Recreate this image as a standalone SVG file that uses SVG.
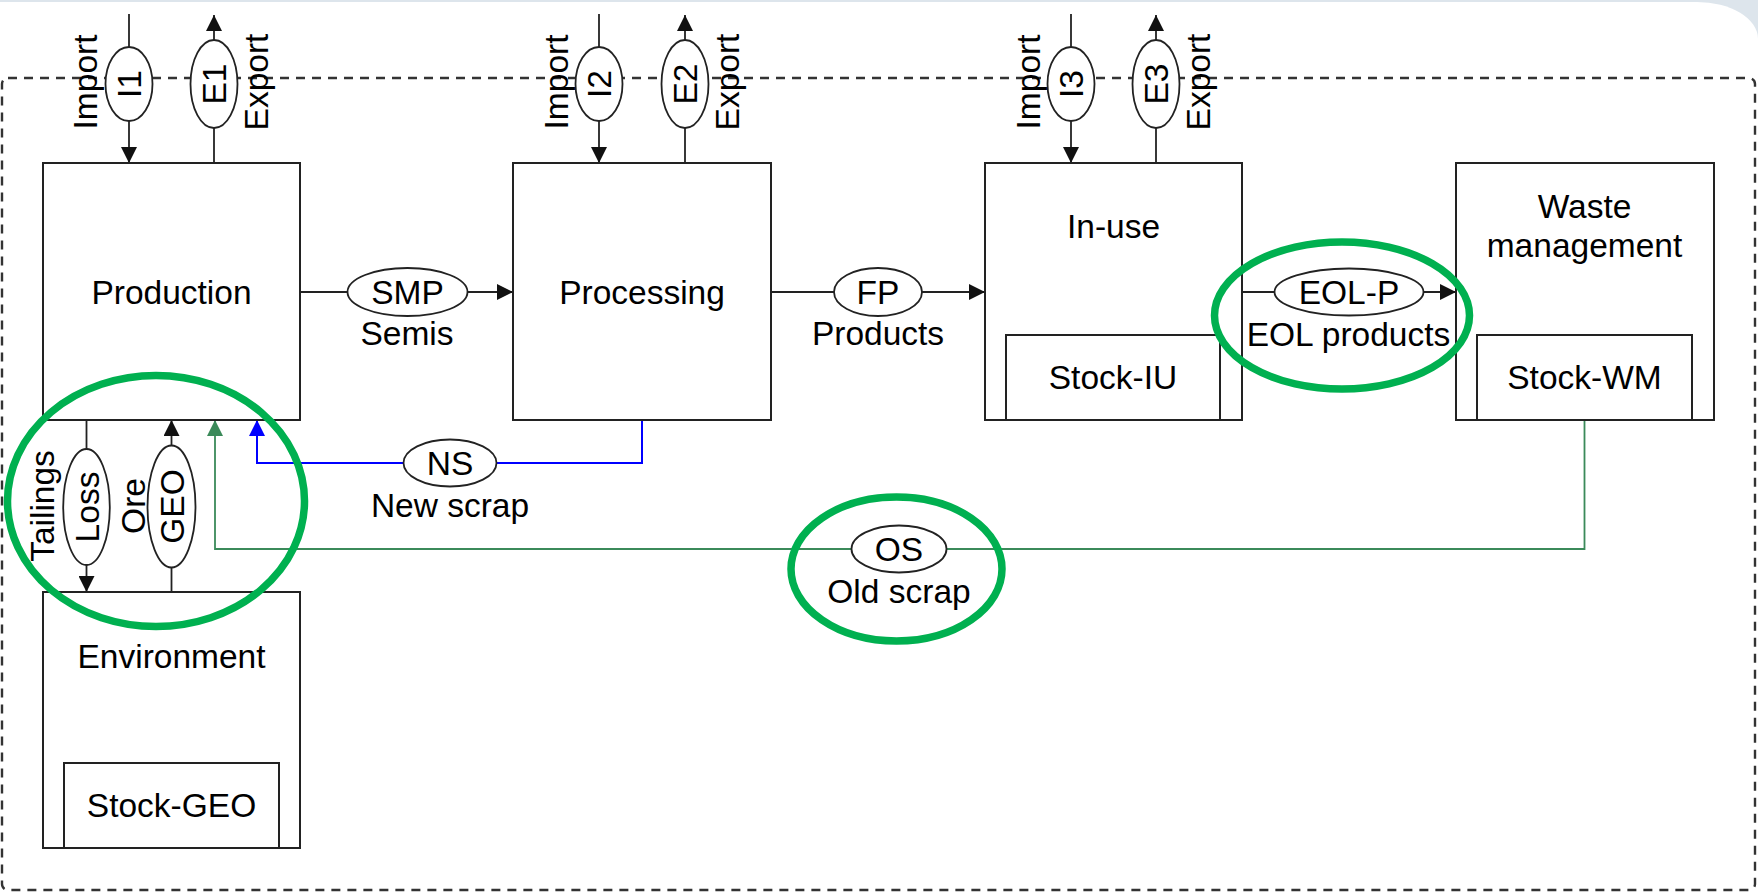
<svg xmlns="http://www.w3.org/2000/svg" width="1758" height="893" viewBox="0 0 1758 893">
<defs>
<style>
.box{fill:#fff;stroke:#222;stroke-width:2}
.t{font-family:"Liberation Sans",Arial,sans-serif;font-size:33.5px;fill:#000;text-anchor:middle}
.fl{fill:#fff;stroke:#222;stroke-width:1.8}
.ln{fill:none;stroke:#222;stroke-width:1.8}
.hl{fill:none;stroke:#00b050;stroke-width:7.5}
</style>
<marker id="ab" viewBox="0 0 16 16" refX="16" refY="8" markerWidth="16" markerHeight="16" markerUnits="userSpaceOnUse" orient="auto"><path d="M0,0 L16,8 L0,16 z" fill="#111"/></marker>
<marker id="abl" viewBox="0 0 16 16" refX="16" refY="8" markerWidth="16" markerHeight="16" markerUnits="userSpaceOnUse" orient="auto"><path d="M0,0 L16,8 L0,16 z" fill="#0000ff"/></marker>
<marker id="agr" viewBox="0 0 16 16" refX="16" refY="8" markerWidth="16" markerHeight="16" markerUnits="userSpaceOnUse" orient="auto"><path d="M0,0 L16,8 L0,16 z" fill="#3b8a5a"/></marker>
</defs>
<rect x="0" y="0" width="1758" height="893" fill="#dde5ec"/>
<path d="M0,2 H1697 A61,37 0 0 1 1758,39 V893 H0 Z" fill="#fff"/>
<rect id="system-boundary" x="2" y="78" width="1753" height="812" rx="6" fill="none" stroke="#333" stroke-width="2.4" stroke-dasharray="9 7"/>

<g id="connectors">
<path class="ln" d="M129,14 V163" marker-end="url(#ab)"/>
<path class="ln" d="M214,163 V15" marker-end="url(#ab)"/>
<path class="ln" d="M599,14 V163" marker-end="url(#ab)"/>
<path class="ln" d="M685,163 V15" marker-end="url(#ab)"/>
<path class="ln" d="M1071,14 V163" marker-end="url(#ab)"/>
<path class="ln" d="M1156,163 V15" marker-end="url(#ab)"/>
<path class="ln" d="M300,292 H513" marker-end="url(#ab)"/>
<path class="ln" d="M771,292 H985" marker-end="url(#ab)"/>
<path class="ln" d="M1242,292 H1456" marker-end="url(#ab)"/>
<path class="ln" d="M86.5,420 V592" marker-end="url(#ab)"/>
<path class="ln" d="M171.5,592 V420" marker-end="url(#ab)"/>
<path d="M642,420 V463 H257 V420" fill="none" stroke="#0000ff" stroke-width="2" marker-end="url(#abl)"/>
<path d="M1584.5,420 V549 H215 V420" fill="none" stroke="#3b8a5a" stroke-width="1.8" marker-end="url(#agr)"/>
</g>

<g id="production">
<rect class="box" x="43" y="163" width="257" height="257"/>
<text class="t" x="171.5" y="303.5">Production</text>
</g>
<g id="processing">
<rect class="box" x="513" y="163" width="258" height="257"/>
<text class="t" x="642" y="303.5">Processing</text>
</g>
<g id="in-use">
<rect class="box" x="985" y="163" width="257" height="257"/>
<text class="t" x="1113.5" y="238">In-use</text>
<rect class="box" x="1006" y="335" width="214" height="85"/>
<text class="t" x="1113" y="388.5">Stock-IU</text>
</g>
<g id="waste-management">
<rect class="box" x="1456" y="163" width="258" height="257"/>
<text class="t" x="1584.5" y="218">Waste</text>
<text class="t" x="1584.5" y="257">management</text>
<rect class="box" x="1477" y="335" width="215" height="85"/>
<text class="t" x="1584.5" y="388.5">Stock-WM</text>
</g>
<g id="environment">
<rect class="box" x="43" y="592" width="257" height="256"/>
<text class="t" x="171.5" y="668">Environment</text>
<rect class="box" x="64" y="763" width="215" height="85"/>
<text class="t" x="171.5" y="817">Stock-GEO</text>
</g>

<g id="flow-I1">
<ellipse class="fl" cx="129" cy="84" rx="23.5" ry="37"/>
<text class="t" transform="translate(129,84) rotate(-90)" y="12">I1</text>
<text class="t" transform="translate(85,82) rotate(-90)" y="12">Import</text>
</g>
<g id="flow-E1">
<ellipse class="fl" cx="214" cy="84" rx="23.5" ry="44"/>
<text class="t" transform="translate(214,84) rotate(-90)" y="12">E1</text>
<text class="t" transform="translate(256,82) rotate(-90)" y="12">Export</text>
</g>
<g id="flow-I2">
<ellipse class="fl" cx="599" cy="84" rx="23.5" ry="37"/>
<text class="t" transform="translate(599,84) rotate(-90)" y="12">I2</text>
<text class="t" transform="translate(555.5,82) rotate(-90)" y="12">Import</text>
</g>
<g id="flow-E2">
<ellipse class="fl" cx="685" cy="84" rx="23.5" ry="44"/>
<text class="t" transform="translate(685,84) rotate(-90)" y="12">E2</text>
<text class="t" transform="translate(727,82) rotate(-90)" y="12">Export</text>
</g>
<g id="flow-I3">
<ellipse class="fl" cx="1071" cy="84" rx="23.5" ry="37"/>
<text class="t" transform="translate(1071,84) rotate(-90)" y="12">I3</text>
<text class="t" transform="translate(1027.5,82) rotate(-90)" y="12">Import</text>
</g>
<g id="flow-E3">
<ellipse class="fl" cx="1156" cy="84" rx="23.5" ry="44"/>
<text class="t" transform="translate(1156,84) rotate(-90)" y="12">E3</text>
<text class="t" transform="translate(1198,82) rotate(-90)" y="12">Export</text>
</g>
<g id="flow-SMP">
<ellipse class="fl" cx="407.5" cy="292" rx="60" ry="24"/>
<text class="t" x="407.5" y="304">SMP</text>
<text class="t" x="407" y="345">Semis</text>
</g>
<g id="flow-FP">
<ellipse class="fl" cx="878" cy="292" rx="44" ry="24"/>
<text class="t" x="878" y="304">FP</text>
<text class="t" x="878" y="344.5">Products</text>
</g>
<g id="flow-EOL-P">
<ellipse class="fl" cx="1349" cy="292" rx="74.5" ry="23.5"/>
<text class="t" x="1349" y="304">EOL-P</text>
<text class="t" x="1348.5" y="345.5">EOL products</text>
</g>
<g id="flow-NS">
<ellipse class="fl" cx="450" cy="463" rx="46.5" ry="23.5"/>
<text class="t" x="450" y="475">NS</text>
<text class="t" x="450" y="517">New scrap</text>
</g>
<g id="flow-OS">
<ellipse class="fl" cx="899" cy="549" rx="47.5" ry="23.5"/>
<text class="t" x="899" y="561">OS</text>
<text class="t" x="899" y="603">Old scrap</text>
</g>
<g id="flow-Loss">
<ellipse class="fl" cx="86.5" cy="507" rx="23.3" ry="58"/>
<text class="t" transform="translate(86.5,507) rotate(-90)" y="12">Loss</text>
<text class="t" transform="translate(42,506) rotate(-90)" y="12">Tailings</text>
</g>
<g id="flow-GEO">
<ellipse class="fl" cx="171.5" cy="506.5" rx="24" ry="61"/>
<text class="t" transform="translate(171.5,506.5) rotate(-90)" y="12">GEO</text>
<text class="t" transform="translate(132.5,506) rotate(-90)" y="12">Ore</text>
</g>

<g id="highlights">
<ellipse class="hl" cx="156" cy="501" rx="148.5" ry="125.5"/>
<ellipse class="hl" cx="1342" cy="315.5" rx="127.5" ry="73.5"/>
<ellipse class="hl" cx="896.5" cy="569" rx="105.5" ry="72"/>
</g>
</svg>
